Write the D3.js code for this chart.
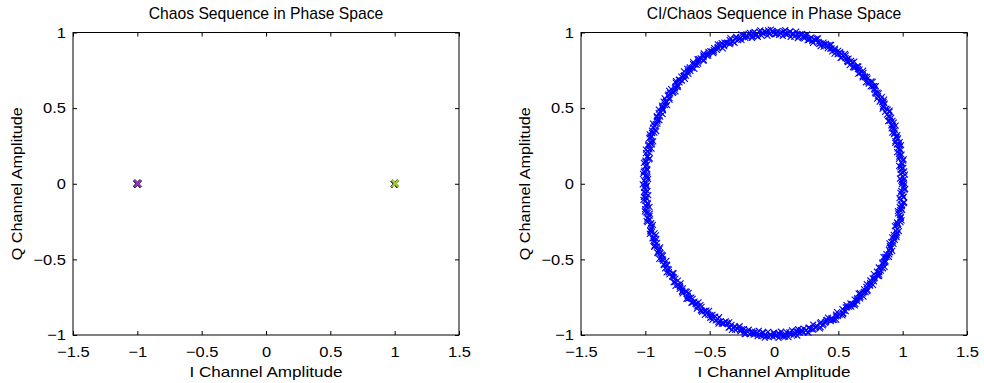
<!DOCTYPE html>
<html>
<head>
<meta charset="utf-8">
<script src="https://cdn.jsdelivr.net/npm/d3@7"></script>
<style>
  body { margin: 0; background: #fff; }
  svg { font-family: "Liberation Sans", Arial, Helvetica, sans-serif; }
  .tick text { font-size: 15px; fill: #000; }
</style>
</head>
<body>
<div id="chart"></div>
<script>
// left panel: chaos sequence, I/Q pairs
var chaosI = [1, -1, -1, 1, 1, -1, 1, -1, -1, 1, -1, 1, 1, 1, -1, -1, 1, -1, 1, -1];
var chaosQ = [0, 0, 0, 0, 0, 0, 0, 0, 0, 0, 0, 0, 0, 0, 0, 0, 0, 0, 0, 0];

// right panel: CI/chaos samples, two runs, phase (deg) + amplitude
var ciPhaseA = [
  0.3, 1.2, 2.0, 3.4, 4.1, 5.3, 6.0, 6.9, 8.2, 9.1,
  10.4, 11.0, 12.3, 13.1, 14.5, 15.2, 16.0, 17.3, 18.1, 19.4,
  20.2, 21.4, 22.1, 22.9, 24.3, 25.0, 26.2, 27.5, 28.3, 29.0,
  30.5, 31.1, 32.4, 33.0, 33.8, 35.1, 36.3, 37.0, 38.4, 39.2,
  40.1, 41.3, 42.0, 43.2, 44.4, 45.1, 45.9, 47.2, 48.0, 49.3,
  50.2, 51.0, 52.3, 53.1, 54.4, 55.0, 56.2, 57.3, 58.1, 59.4,
  60.0, 61.3, 62.1, 63.4, 64.2, 65.0, 66.4, 67.1, 68.3, 69.2,
  70.4, 71.1, 72.0, 73.3, 74.1, 75.4, 76.2, 77.0, 78.3, 79.1,
  80.3, 81.2, 82.4, 83.0, 84.3, 85.1, 86.0, 87.2, 88.4, 89.1,
  90.2, 91.4, 92.1, 93.0, 94.3, 95.2, 96.0, 97.4, 98.1, 99.3,
  100.1, 101.3, 102.2, 103.0, 104.4, 105.1, 106.3, 107.0, 108.2, 109.4,
  110.0, 111.2, 112.4, 113.1, 114.0, 115.3, 116.1, 117.4, 118.2, 119.0,
  120.3, 121.1, 122.4, 123.2, 124.0, 125.3, 126.1, 127.4, 128.0, 129.2,
  130.4, 131.1, 132.0, 133.3, 134.2, 135.0, 136.4, 137.1, 138.3, 139.0,
  140.2, 141.4, 142.1, 143.0, 144.3, 145.1, 146.4, 147.2, 148.0, 149.3,
  150.1, 151.3, 152.0, 153.4, 154.2, 155.0, 156.3, 157.1, 158.4, 159.2,
  160.0, 161.3, 162.1, 163.4, 164.2, 165.0, 166.3, 167.2, 168.0, 169.4,
  170.1, 171.3, 172.2, 173.0, 174.4, 175.1, 176.3, 177.0, 178.2, 179.4,
  180.2, 181.0, 182.3, 183.1, 184.4, 185.2, 186.0, 187.3, 188.1, 189.0,
  190.3, 191.1, 192.4, 193.2, 194.0, 195.3, 196.1, 197.4, 198.2, 199.0,
  200.4, 201.2, 202.0, 203.3, 204.1, 205.4, 206.2, 207.0, 208.3, 209.1,
  210.0, 211.4, 212.2, 213.0, 214.3, 215.1, 216.4, 217.2, 218.0, 219.3,
  220.1, 221.4, 222.2, 223.0, 224.3, 225.1, 226.0, 227.4, 228.2, 229.0,
  230.3, 231.1, 232.4, 233.2, 234.0, 235.3, 236.1, 237.4, 238.2, 239.0,
  240.3, 241.1, 242.0, 243.4, 244.2, 245.0, 246.3, 247.1, 248.4, 249.2,
  250.0, 251.3, 252.1, 253.4, 254.2, 255.0, 256.3, 257.1, 258.0, 259.4,
  260.2, 261.0, 262.3, 263.1, 264.4, 265.2, 266.0, 267.3, 268.1, 269.4,
  270.1, 271.3, 272.0, 273.2, 274.4, 275.1, 276.3, 277.0, 278.2, 279.4,
  280.2, 281.0, 282.3, 283.1, 284.4, 285.2, 286.0, 287.3, 288.1, 289.0,
  290.4, 291.2, 292.0, 293.3, 294.1, 295.4, 296.2, 297.0, 298.3, 299.1,
  300.0, 301.4, 302.2, 303.0, 304.3, 305.1, 306.4, 307.2, 308.0, 309.3,
  310.1, 311.4, 312.2, 313.0, 314.3, 315.1, 316.0, 317.4, 318.2, 319.0,
  320.3, 321.1, 322.4, 323.2, 324.0, 325.3, 326.1, 327.4, 328.2, 329.0,
  330.3, 331.1, 332.0, 333.4, 334.2, 335.0, 336.3, 337.1, 338.4, 339.2,
  340.0, 341.3, 342.1, 343.4, 344.2, 345.0, 346.3, 347.1, 348.0, 349.4,
  350.2, 351.0, 352.3, 353.1, 354.4, 355.2, 356.0, 357.3, 358.1, 359.4
];
var ciAmpA = [
  1.01,0.99,0.98,1.02,1.00,0.99,1.01,0.98,1.00,1.02,0.99,1.01,0.98,1.00,1.02,0.99,0.98,1.01,1.00,0.99,
  0.98,1.00,1.02,0.99,1.01,0.98,1.00,0.99,1.02,1.01,0.98,0.99,1.01,1.02,1.00,0.98,1.01,0.99,1.00,1.02,
  1.00,1.02,0.99,0.98,1.01,1.00,0.99,1.02,0.98,1.00,1.01,0.99,1.02,0.98,0.99,1.01,1.00,1.02,0.98,1.01,
  0.99,0.98,1.01,1.00,1.02,0.99,1.01,1.00,0.98,0.99,1.02,1.00,0.98,1.01,0.99,1.02,0.99,1.00,1.01,0.98,
  1.02,1.00,0.98,1.01,0.99,1.02,0.98,1.00,1.01,0.99,1.00,1.02,0.99,0.98,1.01,1.00,1.02,0.98,0.99,1.01,
  0.98,1.01,1.00,0.99,1.02,1.00,0.99,1.01,0.98,1.02,0.99,1.00,1.01,0.99,0.98,1.02,1.00,1.01,0.99,1.00,
  1.01,0.99,1.02,1.00,0.98,1.01,1.00,0.99,1.02,0.98,1.01,0.99,1.00,1.02,1.00,0.98,0.99,1.01,1.02,0.99,
  1.00,0.98,0.99,1.02,1.01,0.99,1.02,1.00,0.98,1.01,1.00,1.02,0.98,0.99,1.01,1.00,0.99,1.02,1.01,0.98,
  0.99,1.02,1.01,0.98,1.00,1.01,0.98,1.02,0.99,1.00,0.98,1.01,1.02,1.00,0.99,1.01,1.02,0.99,0.98,1.00,
  1.02,0.99,1.00,1.01,0.98,1.00,1.02,0.99,1.01,0.98,1.02,1.00,0.99,1.01,1.02,0.99,0.98,1.00,1.01,1.02,
  0.98,1.00,1.01,0.99,1.02,0.98,1.00,1.01,0.99,1.02,1.00,0.98,1.01,0.99,1.00,1.02,1.01,0.98,1.00,0.99,
  1.01,1.02,0.98,1.00,0.99,1.01,0.99,0.98,1.02,1.00,0.99,1.01,1.00,0.98,1.02,0.99,1.01,1.00,1.02,0.98,
  1.00,0.99,1.02,1.01,0.98,1.02,1.01,1.00,0.99,0.98,1.01,1.02,0.99,1.00,0.98,1.01,0.99,1.02,1.00,1.01,
  0.99,1.01,1.00,0.98,1.01,0.99,1.02,0.98,1.00,1.01,0.99,1.00,1.02,0.98,1.01,1.00,1.02,0.99,0.98,1.00,
  1.02,0.98,0.99,1.01,1.00,1.02,0.99,1.01,0.98,1.00,1.02,0.99,1.01,1.00,0.99,0.98,1.00,1.01,1.02,0.99,
  0.98,1.02,1.01,1.00,0.99,0.98,1.01,1.00,1.02,0.99,1.00,1.01,0.98,1.02,1.00,0.99,1.01,0.98,1.00,1.02,
  1.01,1.00,0.98,1.02,0.99,1.01,1.00,1.02,0.99,1.01,0.98,1.00,0.99,1.01,1.02,1.00,0.98,0.99,1.01,1.00,
  0.99,1.01,1.02,0.98,1.00,0.99,1.02,1.01,1.00,0.98,1.01,0.99,1.00,1.02,0.98,1.01,1.00,0.99,1.02,1.01
];
var ciPhaseB = [
  0.7, 1.6, 2.6, 3.9, 4.6, 5.8, 6.5, 7.4, 8.7, 9.6,
  10.8, 11.6, 12.8, 13.7, 14.9, 15.7, 16.6, 17.8, 18.6, 19.8,
  20.7, 21.8, 22.6, 23.5, 24.8, 25.6, 26.7, 27.9, 28.8, 29.6,
  30.9, 31.6, 32.8, 33.5, 34.4, 35.6, 36.8, 37.5, 38.9, 39.7,
  40.6, 41.8, 42.5, 43.7, 44.9, 45.6, 46.5, 47.7, 48.6, 49.8,
  50.7, 51.5, 52.8, 53.6, 54.9, 55.5, 56.7, 57.8, 58.6, 59.9,
  60.5, 61.8, 62.6, 63.9, 64.7, 65.5, 66.9, 67.6, 68.8, 69.7,
  70.9, 71.6, 72.5, 73.8, 74.6, 75.9, 76.7, 77.5, 78.8, 79.6,
  80.8, 81.7, 82.9, 83.5, 84.8, 85.6, 86.5, 87.7, 88.9, 89.6,
  90.7, 91.9, 92.6, 93.5, 94.8, 95.7, 96.5, 97.9, 98.6, 99.8,
  100.6, 101.8, 102.7, 103.5, 104.9, 105.6, 106.8, 107.5, 108.7, 109.9,
  110.5, 111.7, 112.9, 113.6, 114.5, 115.8, 116.6, 117.9, 118.7, 119.5,
  120.8, 121.6, 122.9, 123.7, 124.5, 125.8, 126.6, 127.9, 128.5, 129.7,
  130.9, 131.6, 132.5, 133.8, 134.7, 135.5, 136.9, 137.6, 138.8, 139.5,
  140.7, 141.9, 142.6, 143.5, 144.8, 145.6, 146.9, 147.7, 148.5, 149.8,
  150.6, 151.8, 152.5, 153.9, 154.7, 155.5, 156.8, 157.6, 158.9, 159.7,
  160.5, 161.8, 162.6, 163.9, 164.7, 165.5, 166.8, 167.7, 168.5, 169.9,
  170.6, 171.8, 172.7, 173.5, 174.9, 175.6, 176.8, 177.5, 178.7, 179.9,
  180.7, 181.5, 182.8, 183.6, 184.9, 185.7, 186.5, 187.8, 188.6, 189.5,
  190.8, 191.6, 192.9, 193.7, 194.5, 195.8, 196.6, 197.9, 198.7, 199.5,
  200.9, 201.7, 202.5, 203.8, 204.6, 205.9, 206.7, 207.5, 208.8, 209.6,
  210.5, 211.9, 212.7, 213.5, 214.8, 215.6, 216.9, 217.7, 218.5, 219.8,
  220.6, 221.9, 222.7, 223.5, 224.8, 225.6, 226.5, 227.9, 228.7, 229.5,
  230.8, 231.6, 232.9, 233.7, 234.5, 235.8, 236.6, 237.9, 238.7, 239.5,
  240.8, 241.6, 242.5, 243.9, 244.7, 245.5, 246.8, 247.6, 248.9, 249.7,
  250.5, 251.8, 252.6, 253.9, 254.7, 255.5, 256.8, 257.6, 258.5, 259.9,
  260.7, 261.5, 262.8, 263.6, 264.9, 265.7, 266.5, 267.8, 268.6, 269.9,
  270.6, 271.8, 272.5, 273.7, 274.9, 275.6, 276.8, 277.5, 278.7, 279.9,
  280.7, 281.5, 282.8, 283.6, 284.9, 285.7, 286.5, 287.8, 288.6, 289.5,
  290.9, 291.7, 292.5, 293.8, 294.6, 295.9, 296.7, 297.5, 298.8, 299.6,
  300.5, 301.9, 302.7, 303.5, 304.8, 305.6, 306.9, 307.7, 308.5, 309.8,
  310.6, 311.9, 312.7, 313.5, 314.8, 315.6, 316.5, 317.9, 318.7, 319.5,
  320.8, 321.6, 322.9, 323.7, 324.5, 325.8, 326.6, 327.9, 328.7, 329.5,
  330.8, 331.6, 332.5, 333.9, 334.7, 335.5, 336.8, 337.6, 338.9, 339.7,
  340.5, 341.8, 342.6, 343.9, 344.7, 345.5, 346.8, 347.6, 348.5, 349.9,
  350.7, 351.5, 352.8, 353.6, 354.9, 355.7, 356.5, 357.8, 358.6, 359.9
];
var ciAmpB = [
  0.995,1.01,1.005,0.985,1.015,1.0,0.99,1.005,1.015,0.985,1.0,0.995,1.01,0.99,1.005,1.015,0.985,1.0,1.01,0.995,
  1.005,0.985,1.0,1.015,0.99,1.01,0.995,1.015,0.985,1.005,0.99,1.01,1.0,0.985,1.015,0.995,1.005,0.99,1.0,1.01,
  0.99,1.015,0.995,1.005,1.0,0.985,1.01,0.99,1.005,1.015,0.995,0.985,1.005,1.01,0.99,1.0,1.015,0.985,1.005,0.995,
  1.01,1.0,0.985,0.995,1.015,1.005,0.985,1.01,0.995,1.0,1.015,1.005,0.99,1.0,0.985,1.01,0.995,1.015,0.99,1.005,
  0.985,1.005,1.015,1.0,0.995,1.01,1.005,0.985,1.0,0.99,1.01,0.995,1.015,1.005,1.0,0.985,1.01,0.995,1.015,0.99,
  1.015,0.99,1.0,1.01,0.985,0.995,1.015,1.005,0.99,1.01,0.985,1.0,0.995,1.015,1.01,1.005,0.99,1.0,0.985,1.005,
  1.0,0.995,1.01,0.985,1.005,1.015,0.99,1.0,1.01,0.995,1.005,1.015,0.985,0.99,1.0,1.01,1.005,0.995,1.015,0.985,
  0.995,1.015,0.99,1.005,1.01,0.985,1.0,1.015,0.995,1.005,0.99,1.0,1.01,1.015,0.985,0.995,1.0,1.005,0.99,1.01,
  1.005,1.0,1.015,0.99,0.985,1.01,0.995,1.005,1.015,1.0,0.985,1.01,0.995,1.005,0.99,1.015,1.0,0.985,1.01,0.995,
  0.99,1.01,0.985,1.0,1.015,0.995,1.005,0.99,1.0,1.015,1.01,0.985,1.005,0.995,1.015,1.0,0.99,1.01,1.005,0.985,
  1.01,0.985,1.005,1.015,1.0,0.99,1.015,0.995,0.985,1.005,1.0,1.01,0.99,1.015,0.995,1.005,0.985,1.0,0.995,1.015,
  0.985,1.0,0.995,1.01,1.005,1.015,0.985,1.0,1.01,0.99,1.015,0.995,1.0,1.005,0.985,1.01,1.015,0.99,1.0,1.005,
  1.015,1.005,0.99,0.995,1.01,1.0,1.005,0.985,0.995,1.015,0.99,1.005,1.01,0.985,1.0,0.995,1.005,1.015,0.985,1.0,
  1.0,0.99,1.015,1.005,0.985,1.005,1.01,1.015,1.0,0.985,1.005,0.99,0.995,1.01,1.015,0.985,1.0,1.005,1.01,0.99,
  0.995,1.005,1.0,0.985,1.015,0.99,1.0,1.01,1.005,0.995,1.015,0.985,1.005,1.0,0.99,1.01,0.995,1.015,1.0,1.005,
  1.005,1.015,0.985,1.01,0.995,1.0,0.99,1.005,1.015,1.01,0.995,1.005,0.985,1.0,1.01,1.015,0.99,1.005,0.995,0.985,
  0.99,1.0,1.01,1.015,1.005,0.985,1.015,0.995,1.0,1.005,0.99,1.015,1.01,0.995,1.005,0.99,1.01,1.0,0.985,1.015,
  1.01,0.995,1.005,0.99,1.0,1.015,1.005,1.01,0.985,0.995,1.0,1.005,1.015,0.99,1.01,1.0,0.985,1.015,1.005,0.995
];

var xTicks = [-1.5, -1, -0.5, 0, 0.5, 1, 1.5];
var yTicks = [-1, -0.5, 0, 0.5, 1];

var width = 984, height = 383;
var svg = d3.select('#chart').append('svg')
    .attr('width', width)
    .attr('height', height);

var fmt = function (d) { return String(d).replace('-', '\u2212'); };

// helvetica in the original runs a bit wider than liberation sans
function widen(sel, k) {
  sel.each(function () {
    var w = this.getComputedTextLength();
    d3.select(this).attr('textLength', w * k).attr('lengthAdjust', 'spacingAndGlyphs');
  });
}

function makePanel(left, right, title) {
  var top = 32.5, bottom = 335;
  var x = d3.scaleLinear().domain([-1.5, 1.5]).range([left, right]);
  var y = d3.scaleLinear().domain([-1, 1]).range([bottom, top]);
  var g = svg.append('g');

  // bottom + left axes with labels, ticks pointing inward
  g.append('g')
      .attr('transform', 'translate(0,' + bottom + ')')
      .call(d3.axisBottom(x).tickValues(xTicks).tickSize(-4).tickPadding(11).tickFormat(fmt))
      .call(function (a) { a.select('.domain').remove(); });
  g.append('g')
      .attr('transform', 'translate(' + left + ',0)')
      .call(d3.axisLeft(y).tickValues(yTicks).tickSize(-4).tickPadding(7).tickFormat(fmt))
      .call(function (a) { a.select('.domain').remove(); });
  // top + right ticks without labels
  g.append('g')
      .attr('transform', 'translate(0,' + top + ')')
      .call(d3.axisTop(x).tickValues(xTicks).tickSize(-4).tickFormat(''))
      .call(function (a) { a.select('.domain').remove(); });
  g.append('g')
      .attr('transform', 'translate(' + right + ',0)')
      .call(d3.axisRight(y).tickValues(yTicks).tickSize(-4).tickFormat(''))
      .call(function (a) { a.select('.domain').remove(); });

  g.selectAll('.tick line').attr('stroke', '#000').attr('stroke-width', 1);
  g.selectAll('.tick text').call(widen, 1.1);

  g.append('rect')
      .attr('x', left).attr('y', top)
      .attr('width', right - left).attr('height', bottom - top)
      .attr('fill', 'none').attr('stroke', '#000').attr('stroke-width', 1);

  g.append('text')
      .attr('x', (left + right) / 2).attr('y', 19)
      .attr('text-anchor', 'middle')
      .style('font-size', '15.7px')
      .text(title);
  g.append('text')
      .attr('x', (left + right) / 2).attr('y', 377)
      .attr('text-anchor', 'middle')
      .style('font-size', '15px')
      .text('I Channel Amplitude')
      .call(widen, 1.14);
  g.append('text')
      .attr('transform', 'translate(' + (left - 51) + ',' + ((top + bottom) / 2) + ') rotate(-90)')
      .attr('text-anchor', 'middle')
      .style('font-size', '15px')
      .text('Q Channel Amplitude')
      .call(widen, 1.08);

  return { g: g, x: x, y: y };
}

function xMark(sel, s) {
  sel.attr('d', 'M' + (-s) + ',' + (-s) + 'L' + s + ',' + s + 'M' + (-s) + ',' + s + 'L' + s + ',' + (-s));
}

// left panel
var p1 = makePanel(73, 459, 'Chaos Sequence in Phase Space');
var chaos = chaosI.map(function (v, i) { return { i: v, q: chaosQ[i] }; });
p1.g.selectAll('path.back').data(chaos).enter().append('path')
    .attr('class', 'back')
    .attr('transform', function (d) { return 'translate(' + p1.x(d.i) + ',' + p1.y(d.q) + ')'; })
    .call(xMark, 3.2)
    .attr('stroke', '#2a2a2a').attr('stroke-width', 2.2).attr('fill', 'none');
p1.g.selectAll('path.front').data(chaos).enter().append('path')
    .attr('class', 'front')
    .attr('transform', function (d) { return 'translate(' + (p1.x(d.i) + 0.5) + ',' + (p1.y(d.q) - 0.3) + ')'; })
    .call(xMark, 3.2)
    .attr('stroke', function (d) { return d.i < 0 ? '#8e36b8' : '#9acd32'; })
    .attr('stroke-width', 1.4).attr('fill', 'none');

// right panel
var p2 = makePanel(581, 967, 'CI/Chaos Sequence in Phase Space');
function toIQ(phase, amp) {
  return phase.map(function (ph, i) {
    var a = ph * Math.PI / 180;
    return { i: amp[i] * Math.cos(a), q: amp[i] * Math.sin(a) };
  });
}
var ring = toIQ(ciPhaseA, ciAmpA).concat(toIQ(ciPhaseB, ciAmpB));
p2.g.selectAll('path.pt').data(ring).enter().append('path')
    .attr('class', 'pt')
    .attr('transform', function (d) { return 'translate(' + p2.x(d.i) + ',' + p2.y(d.q) + ')'; })
    .call(xMark, 3)
    .attr('stroke', '#0000ff').attr('stroke-width', 1.1).attr('fill', 'none');
</script>
</body>
</html>
